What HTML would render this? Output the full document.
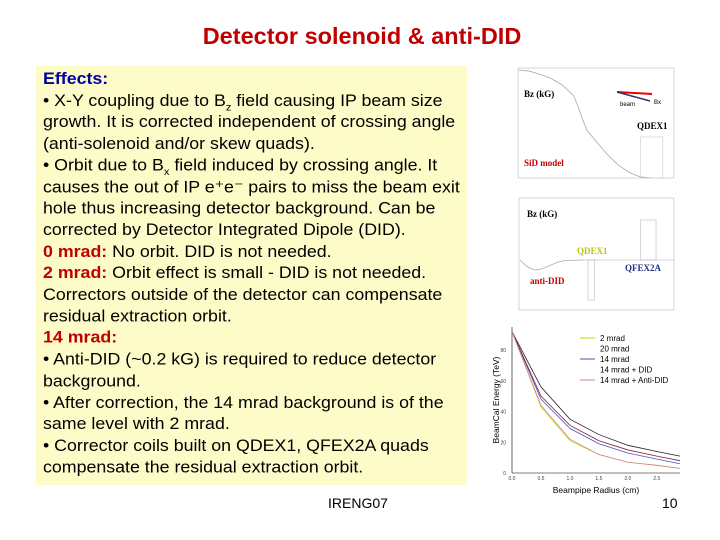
<!DOCTYPE html>
<html><head><meta charset="utf-8"><style>
body{margin:0;width:720px;height:540px;background:#fff;position:relative;overflow:hidden;font-family:"Liberation Sans",sans-serif}
#title{position:absolute;left:0;width:720px;top:23px;text-align:center;color:#c00000;font-weight:bold;font-size:23.5px;transform:translateX(2px)}
#box{position:absolute;left:36px;top:66px;width:431px;height:419px;background:#fdfbc8}
#txt{position:absolute;left:43px;top:68px;width:425px;font-size:17.8px;line-height:21.6px;color:#000;transform:scaleY(0.95);transform-origin:0 0}
#txt .ln{line-height:22.7px}
.b{color:#0000a0;font-weight:bold}.r{color:#c00000;font-weight:bold}
sub{font-size:11px;line-height:0}
.nw{white-space:nowrap}
#foot{position:absolute;left:328px;top:495px;font-size:14px}
#pg{position:absolute;left:662px;top:495px;font-size:14px}
svg{position:absolute;left:0;top:0}
</style></head><body>
<div id="title">Detector solenoid &amp; anti-DID</div>
<div id="box"></div>
<div id="txt"><div class="ln">
<span class="b">Effects:</span><br>
• X-Y coupling due to B<sub>z</sub> field causing IP beam size growth. It is corrected independent of crossing angle <span class="nw">(anti-solenoid</span> and/or skew quads).<br>
• Orbit due to B<sub>x</sub> field induced by crossing angle. It causes the out of IP e⁺e⁻ pairs to miss the beam exit hole thus increasing detector background. Can be corrected by Detector Integrated Dipole (DID).<br>
<span class="r">0 mrad:</span> No orbit. DID is not needed.<br>
<span class="r">2 mrad:</span> Orbit effect is small - DID is not needed. Correctors outside of the detector can compensate residual extraction orbit.<br>
<span class="r">14 mrad:</span><br>
• Anti-DID (~0.2 kG) is required to reduce detector background.<br>
• After correction, the 14 mrad background is of the same level with 2 mrad.<br>
• Corrector coils built on QDEX1, QFEX2A quads compensate the residual extraction orbit.
</div></div>
<div id="foot">IRENG07</div>
<div id="pg">10</div>
<svg id="s" width="720" height="540"></svg>
<script>
const bzX=[0,0.5,1,1.5,2,2.5,2.7,2.9,3.1,3.5,4,4.5,5,5.5,6];
const bzY=[50,49.5,48,46,43,38,33,27,22,17,11,6,2.5,0.5,0];
const didX=[0,0.5,1,1.3,1.8,2.5,3,3.5,5];
const didY=[0,-0.12,-0.19,-0.2,-0.17,-0.09,-0.04,-0.01,0];
const rX=[0,0.5,1,1.5,2,2.5,2.9];
const s2=[92,43,21,12,7,5,3];
const s20=[92,56,35,25,18,14,11];
const s14=[92,48,29,19,13,9,6];
const s14d=[92,50,31,21,15,11,8];
const s14a=[92,44,22,12,7,5,3];
const NS='http://www.w3.org/2000/svg',S=document.getElementById('s');
function el(t,a,txt){const e=document.createElementNS(NS,t);for(const k in a)e.setAttribute(k,a[k]);if(txt!==undefined)e.textContent=txt;S.appendChild(e);return e;}
function sc(d0,d1,r0,r1){return v=>r0+(v-d0)/(d1-d0)*(r1-r0);}
function line(xs,ys,fx,fy,col,w){return el('polyline',{points:xs.map((x,i)=>fx(x)+','+fy(ys[i])).join(' '),fill:'none',stroke:col,'stroke-width':w||1});}
// plot1
let fx=sc(0,7,518,674),fy=sc(0,50,178,70);
let f=el('rect',{x:518,y:68,width:156,height:110,fill:'#fff',stroke:'#bbb','stroke-width':0.6});

let l=line(bzX,bzY,fx,fy,'#aaa',0.8);
el('rect',{x:fx(5.5),y:fy(19),width:fx(6.5)-fx(5.5),height:fy(0)-fy(19),fill:'none',stroke:'#ccc','stroke-width':0.6});
el('text',{x:524,y:97,'font-family':'Liberation Serif','font-size':9,'font-weight':'bold'},'Bz (kG)');
el('text',{x:524,y:166,'font-family':'Liberation Serif','font-size':9,'font-weight':'bold',fill:'#c00000'},'SiD model');
el('text',{x:637,y:129,'font-family':'Liberation Serif','font-size':9,'font-weight':'bold'},'QDEX1');
el('line',{x1:617,y1:92,x2:652,y2:94,stroke:'#e00','stroke-width':2});
el('line',{x1:617,y1:92,x2:650,y2:101,stroke:'#336','stroke-width':1.5});
el('text',{x:620,y:106,'font-size':6},'beam');el('text',{x:654,y:104,'font-size':6},'Bx');
// plot2
fx=sc(0,12,520,674);fy=sc(-1,1,310,210);
f=el('rect',{x:519,y:198,width:155,height:112,fill:'#fff',stroke:'#bbb','stroke-width':0.6});

l=line(didX,didY,fx,fy,'#aaa',0.8);
el('line',{x1:fx(5),y1:fy(0),x2:fx(12),y2:fy(0),stroke:'#aaa','stroke-width':0.6});
el('rect',{x:fx(5.3),y:fy(0),width:fx(5.8)-fx(5.3),height:fy(-0.8)-fy(0),fill:'none',stroke:'#bbb','stroke-width':0.6});
el('rect',{x:fx(9.4),y:fy(0.8),width:fx(10.6)-fx(9.4),height:fy(0)-fy(0.8),fill:'none',stroke:'#bbb','stroke-width':0.6});
el('text',{x:527,y:217,'font-family':'Liberation Serif','font-size':9,'font-weight':'bold'},'Bz (kG)');
el('text',{x:577,y:254,'font-family':'Liberation Serif','font-size':9,'font-weight':'bold',fill:'#b8c800'},'QDEX1');
el('text',{x:625,y:271,'font-family':'Liberation Serif','font-size':9,'font-weight':'bold',fill:'#203080'},'QFEX2A');
el('text',{x:530,y:284,'font-family':'Liberation Serif','font-size':9,'font-weight':'bold',fill:'#c00000'},'anti-DID');
// plot3
fx=sc(0,2.9,512,680);fy=sc(0,80,473,350);
el('line',{x1:512,y1:327,x2:512,y2:473,stroke:'#000','stroke-width':0.6});
el('line',{x1:512,y1:473,x2:680,y2:473,stroke:'#000','stroke-width':0.6});
[0,20,40,60,80].forEach(v=>{el('text',{x:506,y:fy(v)+2,'font-size':5,'text-anchor':'end',fill:'#444'},v);});
['0.0','0.5','1.0','1.5','2.0','2.5'].forEach((t,i)=>{el('text',{x:fx(i*0.5),y:480,'font-size':5,'text-anchor':'middle',fill:'#444'},t);});
[[s2,'#c8d800'],[s20,'#222'],[s14,'#5050c0'],[s14d,'#802040'],[s14a,'#d080a0']].forEach((p,i)=>{const q=line(rX,p[0],fx,fy,p[1],0.8);});
const lg=['2 mrad','20 mrad','14 mrad','14 mrad + DID','14 mrad + Anti-DID'],lc=['#c8d800','#fff','#5050c0','#fff','#d080a0'];
lg.forEach((t,i)=>{el('line',{x1:580,y1:338+i*10.5,x2:595,y2:338+i*10.5,stroke:lc[i]});el('text',{x:600,y:341+i*10.5,'font-size':8},t);});
el('text',{x:596,y:493,'font-size':8.5,'text-anchor':'middle'},'Beampipe Radius (cm)');
el('text',{x:0,y:0,'font-size':8.5,'text-anchor':'middle',transform:'translate(499,400) rotate(-90)'},'BeamCal Energy (TeV)');
</script>
</body></html>
